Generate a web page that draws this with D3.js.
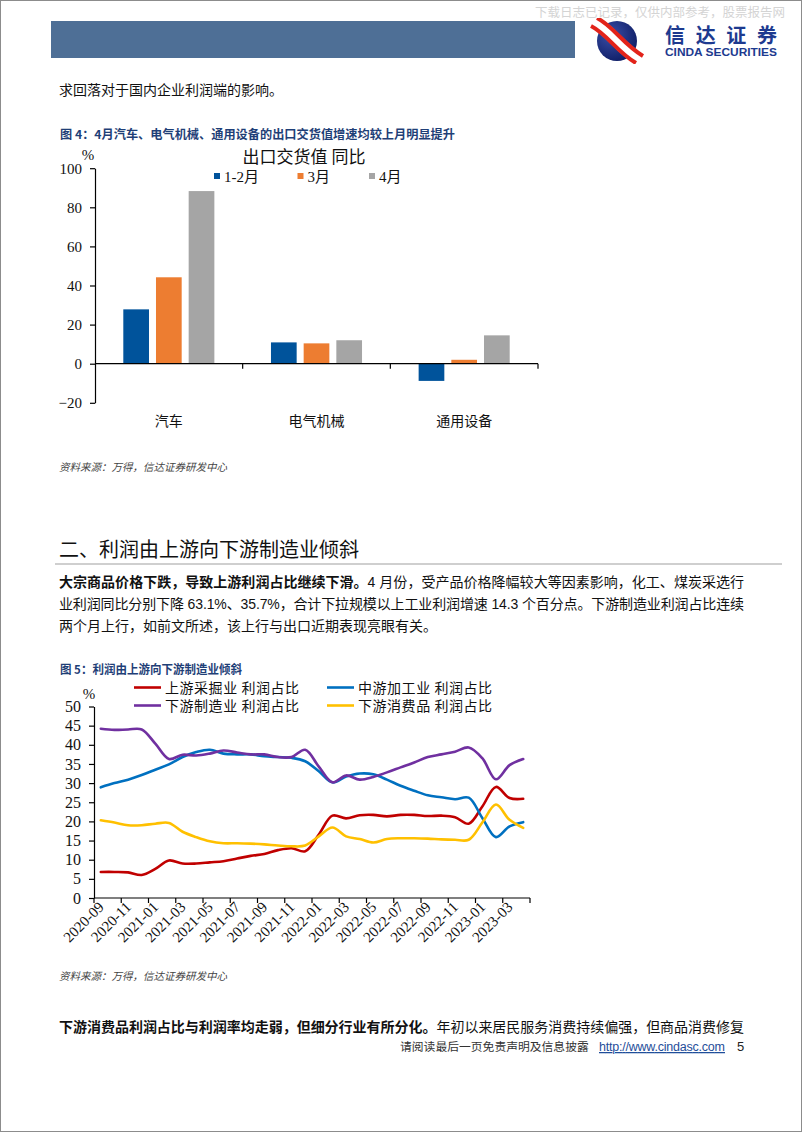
<!DOCTYPE html>
<html><head><meta charset="utf-8">
<script src="https://cdn.jsdelivr.net/npm/d3@7/dist/d3.min.js"></script>
<style>body{margin:0;background:#fff} svg{display:block}</style>
</head><body>
<script>
// ---------- Figure 4 data ----------
const barCategories = ['汽车', '电气机械', '通用设备'];
const barSeriesNames = ['1-2月', '3月', '4月'];
const bar12 = [27.8, 10.9, -8.8];
const bar3 = [44.2, 10.4, 2.0];
const bar4 = [88.3, 12.0, 14.5];
const barTicks = [-20, 0, 20, 40, 60, 80, 100];
const barColors = ['#00539B', '#ED7D31', '#A5A5A5'];

// ---------- Figure 5 data ----------
const months = ['2020-09','2020-10','2020-11','2020-12','2021-01','2021-02','2021-03','2021-04',
  '2021-05','2021-06','2021-07','2021-08','2021-09','2021-10','2021-11','2021-12',
  '2022-01','2022-02','2022-03','2022-04','2022-05','2022-06','2022-07','2022-08',
  '2022-09','2022-10','2022-11','2022-12','2023-01','2023-02','2023-03','2023-04'];
const upstream = [6.8, 6.8, 6.7, 6.0, 7.6, 9.8, 9.0, 9.0, 9.3, 9.6, 10.3, 11.0, 11.5, 12.5, 13.0, 12.2,
  16.6, 21.5, 20.8, 21.6, 21.7, 21.3, 21.7, 21.7, 21.4, 21.5, 21.1, 19.4, 23.9, 29.0, 26.1, 25.9];
const midstream = [28.9, 30.0, 30.9, 32.1, 33.5, 34.9, 36.8, 38.1, 38.7, 37.7, 37.5, 37.5, 37.0, 36.8, 36.6, 35.7,
  33.1, 30.2, 31.7, 32.5, 32.3, 30.9, 29.3, 28.0, 26.8, 26.3, 25.8, 26.2, 20.9, 15.9, 18.7, 19.8];
const downMfg = [44.2, 43.9, 44.0, 44.0, 40.3, 36.3, 37.4, 37.2, 37.7, 38.5, 38.0, 37.5, 37.5, 36.8, 36.8, 38.7,
  34.3, 30.2, 32.0, 30.9, 31.6, 32.8, 34.1, 35.4, 36.8, 37.5, 38.2, 39.3, 36.5, 31.0, 34.7, 36.3];
const downCons = [20.3, 19.7, 19.0, 19.0, 19.4, 19.6, 17.3, 15.9, 14.8, 14.3, 14.3, 14.2, 14.0, 13.7, 13.5, 13.7,
  16.1, 18.4, 16.1, 15.4, 14.5, 15.4, 15.6, 15.6, 15.5, 15.3, 15.2, 15.2, 19.7, 24.4, 20.4, 18.3];
const lineNames = ['上游采掘业 利润占比', '中游加工业 利润占比', '下游制造业 利润占比', '下游消费品 利润占比'];
const lineColors = ['#C00000', '#0070C0', '#7030A0', '#FFC000'];
const lineTicks = [0, 5, 10, 15, 20, 25, 30, 35, 40, 45, 50];
const monthTickLabels = ['2020-09','2020-11','2021-01','2021-03','2021-05','2021-07','2021-09','2021-11',
  '2022-01','2022-03','2022-05','2022-07','2022-09','2022-11','2023-01','2023-03'];

const CJK = '"Noto Sans CJK SC", sans-serif';
const SERIF = '"Liberation Serif", "Noto Sans CJK SC", serif';

const svg = d3.select('body').append('svg').attr('width', 802).attr('height', 1133);

// page frame
svg.append('rect').attr('x', 0.5).attr('y', 0.5).attr('width', 801).attr('height', 1131)
  .attr('fill', 'none').attr('stroke', '#8c8c8c').attr('stroke-width', 1);

// watermark
svg.append('text').attr('x', 535).attr('y', 17).attr('font-family', CJK).attr('font-size', 12.5)
  .attr('fill', '#d4d4d4').text('下载日志已记录，仅供内部参考，股票报告网');

// header bar
svg.append('rect').attr('x', 51).attr('y', 21).attr('width', 524).attr('height', 37).attr('fill', '#4E6F96');

// logo
const defs = svg.append('defs');
const rg = defs.append('radialGradient').attr('id', 'lg').attr('cx', '35%').attr('cy', '35%').attr('r', '70%');
rg.append('stop').attr('offset', '0%').attr('stop-color', '#3A4FA8');
rg.append('stop').attr('offset', '100%').attr('stop-color', '#0F1E66');
defs.append('clipPath').attr('id', 'logoclip').append('rect').attr('x', 590).attr('y', 18).attr('width', 55).attr('height', 46);
const logo = svg.append('g');
logo.append('circle').attr('cx', 617).attr('cy', 41).attr('r', 20).attr('fill', 'url(#lg)');
const lg = logo.append('g').attr('clip-path', 'url(#logoclip)');
lg.append('path').attr('d', 'M594,22 C610,30 620,48 640,60').attr('fill', 'none').attr('stroke', '#fff').attr('stroke-width', 13);
lg.append('path').attr('d', 'M591,26 C607,34 617,52 636,63').attr('fill', 'none').attr('stroke', '#E2231A').attr('stroke-width', 4);
lg.append('path').attr('d', 'M597,18 C613,26 623,44 643,56').attr('fill', 'none').attr('stroke', '#E2231A').attr('stroke-width', 4);
svg.append('text').attr('x', 665).attr('y', 43).attr('font-family', CJK).attr('font-size', 20)
  .attr('font-weight', 'bold').attr('fill', '#1D3A8F').attr('textLength', 112).text('信达证券');
svg.append('text').attr('x', 665).attr('y', 56).attr('font-family', '"Liberation Sans", Arial, sans-serif').attr('font-size', 10)
  .attr('font-weight', 'bold').attr('fill', '#1D3A8F').attr('textLength', 112).attr('lengthAdjust', 'spacingAndGlyphs').text('CINDA SECURITIES');

// body text
const BODY = '"Liberation Sans", "Noto Sans CJK SC", sans-serif';
svg.append('text').attr('x', 59).attr('y', 95).attr('font-family', BODY).attr('font-size', 14).attr('fill', '#111')
  .text('求回落对于国内企业利润端的影响。');

// captions
function caption(y, t, len) {
  svg.append('text').attr('x', 60).attr('y', y).attr('font-family', CJK).attr('font-size', 12)
    .attr('font-weight', 'bold').attr('fill', '#1F3F77').attr('textLength', len).attr('lengthAdjust', 'spacingAndGlyphs').text(t);
}
caption(139, '图 4：4月汽车、电气机械、通用设备的出口交货值增速均较上月明显提升', 395);
caption(674, '图 5：利润由上游向下游制造业倾斜', 182);

function source(y) {
  svg.append('text').attr('x', 59).attr('y', y).attr('font-family', CJK).attr('font-size', 10.5)
    .attr('font-style', 'italic').attr('fill', '#444').text('资料来源：万得，信达证券研发中心');
}
source(471);
source(980);

// heading
svg.append('text').attr('x', 59).attr('y', 557).attr('font-family', CJK).attr('font-size', 20).attr('fill', '#111')
  .text('二、利润由上游向下游制造业倾斜');
svg.append('line').attr('x1', 55).attr('x2', 782).attr('y1', 564).attr('y2', 564).attr('stroke', '#cfcfcf').attr('stroke-width', 2);

// paragraph
function para(y, boldT, normT, justify) {
  const t = svg.append('text').attr('x', 59).attr('y', y).attr('font-family', BODY).attr('font-size', 14).attr('fill', '#111');
  if (boldT) t.append('tspan').attr('font-weight', 'bold').text(boldT);
  t.append('tspan').text(normT);
  if (justify) t.attr('textLength', 685).attr('lengthAdjust', 'spacing');
}
para(587, '大宗商品价格下跌，导致上游利润占比继续下滑。', '4 月份，受产品价格降幅较大等因素影响，化工、煤炭采选行', true);
para(609, null, '业利润同比分别下降 63.1%、35.7%，合计下拉规模以上工业利润增速 14.3 个百分点。下游制造业利润占比连续', true);
para(631, null, '两个月上行，如前文所述，该上行与出口近期表现亮眼有关。', false);
para(1032, '下游消费品利润占比与利润率均走弱，但细分行业有所分化。', '年初以来居民服务消费持续偏强，但商品消费修复', true);

// footer
svg.append('text').attr('x', 400).attr('y', 1051).attr('font-family', CJK).attr('font-size', 11.8).attr('fill', '#333')
  .text('请阅读最后一页免责声明及信息披露');
svg.append('text').attr('x', 599).attr('y', 1051).attr('font-family', '"Liberation Sans", Arial, sans-serif').attr('font-size', 12.5)
  .attr('fill', '#1F4E9A').attr('text-decoration', 'underline').attr('textLength', 126).text('http://www.cindasc.com');
svg.append('text').attr('x', 737).attr('y', 1051).attr('font-family', '"Liberation Sans", Arial, sans-serif').attr('font-size', 13)
  .attr('fill', '#222').text('5');

// ================= Figure 4 : grouped bars =================
{
  const x0 = d3.scaleBand().domain(barCategories).range([95, 538]).padding(0);
  const x1 = d3.scaleBand().domain(barSeriesNames).range([0, x0.bandwidth()]).paddingInner(0.214).paddingOuter(0.866);
  const y = d3.scaleLinear().domain([-20, 100]).range([402.8, 168.2]);
  const series = [bar12, bar3, bar4];
  const g = svg.append('g');

  series.forEach((vals, si) => {
    g.selectAll(null).data(barCategories).join('rect')
      .attr('x', (c) => x0(c) + x1(barSeriesNames[si]))
      .attr('y', (c, i) => y(Math.max(0, vals[i])))
      .attr('width', x1.bandwidth())
      .attr('height', (c, i) => Math.abs(y(vals[i]) - y(0)))
      .attr('fill', barColors[si]);
  });

  const ya = g.append('g').attr('transform', 'translate(95,0)')
    .call(d3.axisLeft(y).tickValues(barTicks).tickSize(5).tickSizeOuter(0).tickPadding(8));
  ya.selectAll('text').attr('font-family', SERIF).attr('font-size', 15).attr('fill', '#111');
  ya.selectAll('line,path').attr('stroke', '#000').attr('stroke-width', 1.2);

  g.append('line').attr('x1', 95).attr('x2', 538).attr('y1', y(0)).attr('y2', y(0)).attr('stroke', '#000').attr('stroke-width', 1.2);
  barCategories.forEach((c) => {
    const xe = x0(c) + x0.bandwidth();
    g.append('line').attr('x1', xe).attr('x2', xe).attr('y1', y(0)).attr('y2', y(0) + 5).attr('stroke', '#000').attr('stroke-width', 1.2);
    g.append('text').attr('x', x0(c) + x0.bandwidth() / 2).attr('y', 426).attr('text-anchor', 'middle')
      .attr('font-family', CJK).attr('font-size', 14).attr('fill', '#111').text(c);
  });

  g.append('text').attr('x', 88).attr('y', 160).attr('text-anchor', 'middle').attr('font-family', SERIF)
    .attr('font-size', 15).attr('fill', '#111').text('%');
  g.append('text').attr('x', 304).attr('y', 163).attr('text-anchor', 'middle').attr('font-family', CJK)
    .attr('font-size', 17).attr('fill', '#111').text('出口交货值 同比');

  const legX = [214, 297.5, 369];
  barSeriesNames.forEach((n, i) => {
    g.append('rect').attr('x', legX[i]).attr('y', 173).attr('width', 6).attr('height', 6).attr('fill', barColors[i]);
    g.append('text').attr('x', legX[i] + 10).attr('y', 181.5).attr('font-family', SERIF).attr('font-size', 15)
      .attr('fill', '#111').text(n);
  });
}

// ================= Figure 5 : lines =================
{
  const x = d3.scalePoint().domain(months).range([94, 530]).padding(0.5);
  const y = d3.scaleLinear().domain([0, 50]).range([898, 706.5]);
  const g = svg.append('g');

  const ya = g.append('g').attr('transform', 'translate(94,0)')
    .call(d3.axisLeft(y).tickValues(lineTicks).tickSize(5).tickSizeOuter(0).tickPadding(8));
  ya.selectAll('text').attr('font-family', SERIF).attr('font-size', 16).attr('fill', '#111');
  ya.selectAll('line,path').attr('stroke', '#000').attr('stroke-width', 1.2);

  g.append('line').attr('x1', 94).attr('x2', 530).attr('y1', y(0)).attr('y2', y(0)).attr('stroke', '#000').attr('stroke-width', 1.2);
  const step = x.step();
  months.forEach((m, i) => {
    if (i % 2 === 0) {
      const xe = x(m) - step / 2;
      g.append('line').attr('x1', xe).attr('x2', xe).attr('y1', y(0)).attr('y2', y(0) + 5).attr('stroke', '#000').attr('stroke-width', 1.2);
    }
  });
  g.append('line').attr('x1', 530).attr('x2', 530).attr('y1', y(0)).attr('y2', y(0) + 5).attr('stroke', '#000').attr('stroke-width', 1.2);

  monthTickLabels.forEach((m) => {
    const px = x(m) + 4, py = 908;
    g.append('text').attr('transform', `translate(${px},${py}) rotate(-45)`).attr('text-anchor', 'end')
      .attr('font-family', SERIF).attr('font-size', 15).attr('fill', '#111').text(m);
  });

  const seriesVals = [upstream, midstream, downMfg, downCons];
  const line = d3.line().x((d, i) => x(months[i])).y((d) => y(d)).curve(d3.curveCatmullRom.alpha(0.5));
  seriesVals.forEach((vals, si) => {
    g.append('path').attr('d', line(vals)).attr('fill', 'none').attr('stroke', lineColors[si])
      .attr('stroke-width', 2.6).attr('stroke-linejoin', 'round').attr('stroke-linecap', 'round');
  });

  g.append('text').attr('x', 89).attr('y', 699).attr('text-anchor', 'middle').attr('font-family', SERIF)
    .attr('font-size', 15).attr('fill', '#111').text('%');

  const legPos = [[134, 687.5], [327, 687.5], [134, 705.5], [327, 705.5]];
  lineNames.forEach((n, i) => {
    const [lx, ly] = legPos[i];
    g.append('line').attr('x1', lx).attr('x2', lx + 27).attr('y1', ly).attr('y2', ly).attr('stroke', lineColors[i]).attr('stroke-width', 2.6);
    g.append('text').attr('x', lx + 31).attr('y', ly + 5).attr('font-family', CJK).attr('font-size', 14)
      .attr('fill', '#111').attr('textLength', 134).attr('lengthAdjust', 'spacing').text(n);
  });
}
</script>
</body></html>
